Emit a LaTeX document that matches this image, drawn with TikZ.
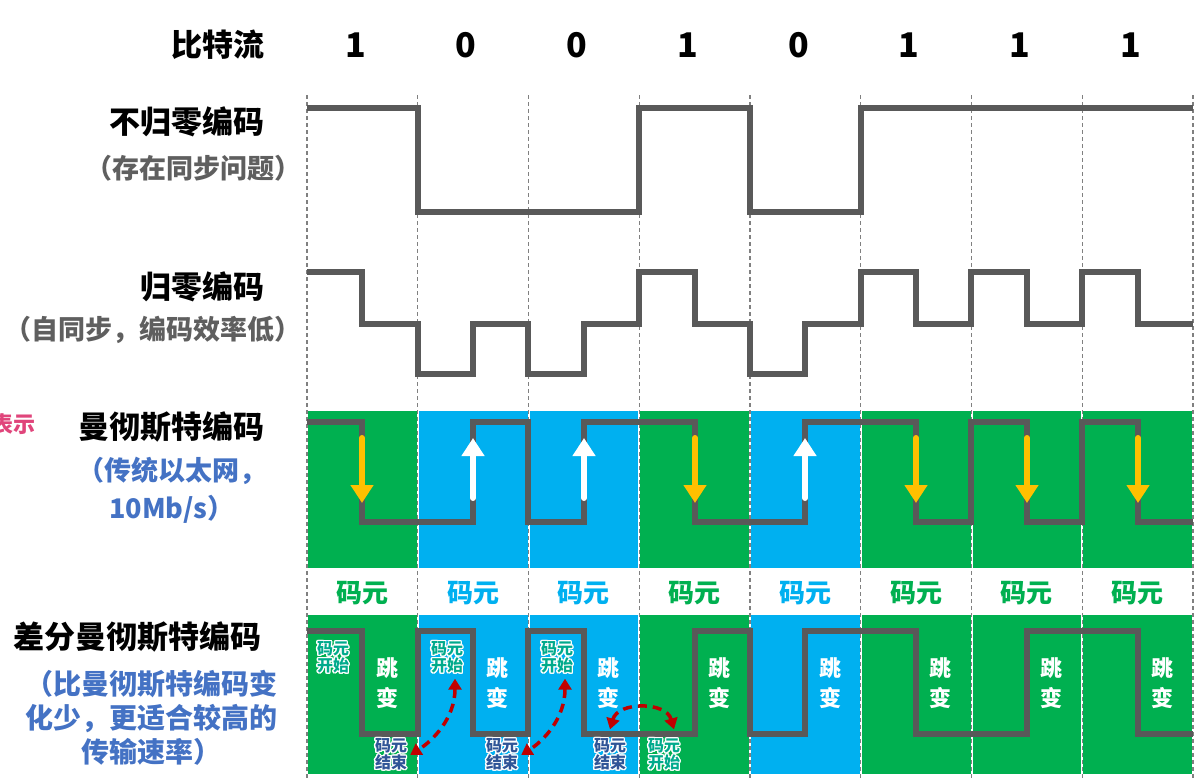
\documentclass[tikz,border=0pt]{standalone}
\usepackage{fontspec}
\setmainfont{Noto Sans CJK SC}
\usepackage{contour}
\contourlength{1.3pt}
\usetikzlibrary{arrows.meta}
\definecolor{sigGray}{HTML}{595959}
\definecolor{cellGreen}{HTML}{00B050}
\definecolor{cellBlue}{HTML}{00B0F0}
\definecolor{noteBlue}{HTML}{4472C4}
\definecolor{noteGray}{HTML}{5F5F5F}
\definecolor{arrOrange}{HTML}{FFC000}
\definecolor{darkRed}{HTML}{C00000}
\definecolor{startTeal}{HTML}{00AA8C}
\definecolor{endBlue}{HTML}{2F5597}
\definecolor{hintPink}{HTML}{E0457B}
\tikzset{
  sig/.style={draw=sigGray, line width=6.5pt, line join=miter},
  gridline/.style={draw=gray, line width=1.1pt, dash pattern=on 4pt off 3pt},
  rowname/.style={anchor=east, inner sep=0pt, font=\bfseries\fontsize{31}{36}\selectfont},
  rownote/.style={inner sep=0pt, align=center, font=\bfseries\fontsize{27}{38}\selectfont},
  bitlbl/.style={inner sep=0pt, font=\bfseries\fontsize{34}{40}\selectfont},
  unitlbl/.style={inner sep=0pt, font=\bfseries\fontsize{26}{30}\selectfont},
  jumplbl/.style={inner sep=0pt, align=center, text=white, font=\bfseries\fontsize{22}{30}\selectfont},
  startlbl/.style={inner sep=0pt, align=center, text=startTeal, font=\bfseries\fontsize{16}{17}\selectfont},
  endlbl/.style={inner sep=0pt, align=center, text=endBlue, font=\bfseries\fontsize{16}{17}\selectfont},
  downarr/.style={draw=arrOrange, line width=6pt, line cap=round, -{Triangle[width=22pt,length=18pt]}},
  uparr/.style={draw=white, line width=6pt, line cap=round, -{Triangle[width=22pt,length=18pt]}},
  redarr/.style={draw=darkRed, line width=3.5pt, dash pattern=on 9pt off 6pt,
    {Triangle[width=13pt,length=11pt]}-{Triangle[width=13pt,length=11pt]}}
}
\begin{document}
\begin{tikzpicture}[x=1pt,y=-1pt]
  \useasboundingbox (0,0) rectangle (1199,779);
  \foreach \c [count=\i] in {cellGreen,cellBlue,cellBlue,cellGreen,cellBlue,cellGreen,cellGreen,cellGreen} {
    \pgfmathsetmacro{\xa}{307+110.75*(\i-1)}
    \pgfmathsetmacro{\xb}{307+110.75*\i}
    \pgfmathsetmacro{\xm}{(\xa+\xb)/2}
    \fill[\c] (\xa+1,411) rectangle (\xb-1,568);
    \fill[\c] (\xa+1,615) rectangle (\xb-1,774);
    \node[unitlbl, text=\c] (unit\i) at (\xm,593) {码元};
  }
  \foreach \i in {0,...,8}
    \draw[gridline] ({307+110.75*\i},95) -- ({307+110.75*\i},779);
  \foreach \b [count=\i] in {1,0,0,1,0,1,1,1}
    \node[bitlbl] (bit\i) at ({307+110.75*(\i-0.5)-7},45) {\b};
  \draw[sig] (307,108) -- (418,108) -- (418,212) -- (639,212) -- (639,108) -- (750,108)
    -- (750,212) -- (861,212) -- (861,108) -- (1193,108);
  \draw[sig] (307,272) -- (362,272) -- (362,324) -- (418,324) -- (418,374) -- (473,374)
    -- (473,324) -- (528,324) -- (528,374) -- (584,374) -- (584,324) -- (639,324)
    -- (639,272) -- (695,272) -- (695,324) -- (750,324) -- (750,374) -- (805,374)
    -- (805,324) -- (861,324) -- (861,272) -- (916,272) -- (916,324) -- (971,324)
    -- (971,272) -- (1027,272) -- (1027,324) -- (1082,324) -- (1082,272) -- (1138,272)
    -- (1138,324) -- (1193,324);
  \draw[sig] (307,422) -- (362,422) -- (362,522) -- (473,522) -- (473,422) -- (528,422)
    -- (528,522) -- (584,522) -- (584,422) -- (695,422) -- (695,522) -- (805,522)
    -- (805,422) -- (916,422) -- (916,522) -- (971,522) -- (971,422) -- (1027,422)
    -- (1027,522) -- (1082,522) -- (1082,422) -- (1138,422) -- (1138,522) -- (1193,522);
  \draw[sig] (307,631) -- (362,631) -- (362,734) -- (418,734) -- (418,631) -- (473,631)
    -- (473,734) -- (528,734) -- (528,631) -- (584,631) -- (584,734) -- (695,734)
    -- (695,631) -- (750,631) -- (750,734) -- (805,734) -- (805,631) -- (916,631)
    -- (916,734) -- (1027,734) -- (1027,631) -- (1138,631) -- (1138,734) -- (1193,734);
  \foreach \x in {362,695,916,1027,1138}
    \draw[downarr] (\x,438) -- (\x,503);
  \foreach \x in {473,584,805}
    \draw[uparr] (\x,498) -- (\x,438);
  \foreach \i in {1,...,8}
    \node[jumplbl] (jump\i) at ({307+110.75*(\i-1)+80},683) {跳\\变};
  \node[startlbl] (st1) at (333,658) {\contour{white}{码元}\\\contour{white}{开始}};
  \node[startlbl] (st2) at (447,658) {\contour{white}{码元}\\\contour{white}{开始}};
  \node[startlbl] (st3) at (557,658) {\contour{white}{码元}\\\contour{white}{开始}};
  \node[startlbl] (st4) at (664,755) {\contour{white}{码元}\\\contour{white}{开始}};
  \node[endlbl] (en1) at (391,755) {\contour{white}{码元}\\\contour{white}{结束}};
  \node[endlbl] (en2) at (502,755) {\contour{white}{码元}\\\contour{white}{结束}};
  \node[endlbl] (en3) at (610,755) {\contour{white}{码元}\\\contour{white}{结束}};
  \draw[redarr] ([xshift=8pt,yshift=-4pt]st2.south) .. controls +(0,40) and +(22,-14) .. ([xshift=3pt]en1.east);
  \draw[redarr] ([xshift=8pt,yshift=-4pt]st3.south) .. controls +(0,40) and +(22,-14) .. ([xshift=3pt]en2.east);
  \draw[redarr] ([yshift=9pt]en3.north) .. controls +(8,-28) and +(-8,-28) .. ([xshift=10pt,yshift=9pt]st4.north);
  \node[rowname] (bitsName) at (265,45) {比特流};
  \node[rowname] (nrzName) at (265,122) {不归零编码};
  \node[rownote, anchor=east, text=noteGray] (nrzNote) at (302,168) {（存在同步问题）};
  \node[rowname] (rzName) at (265,287) {归零编码};
  \node[rownote, anchor=east, text=noteGray] (rzNote) at (302,330) {（自同步，编码效率低）};
  \node[rowname] (manName) at (265,427) {曼彻斯特编码};
  \node[rownote, text=noteBlue] (manNote) at (172,490) {（传统以太网，\\10Mb/s）};
  \node[anchor=east, inner sep=0pt, text=hintPink, font=\bfseries\fontsize{22}{26}\selectfont] (hint) at (36,424) {表示};
  \node[rowname] (diffName) at (262,637) {差分曼彻斯特编码};
  \node[rownote, text=noteBlue, font=\bfseries\fontsize{28}{34}\selectfont] (diffNote) at (151,718) {（比曼彻斯特编码变\\化少，更适合较高的\\传输速率）};
\end{tikzpicture}
\end{document}
